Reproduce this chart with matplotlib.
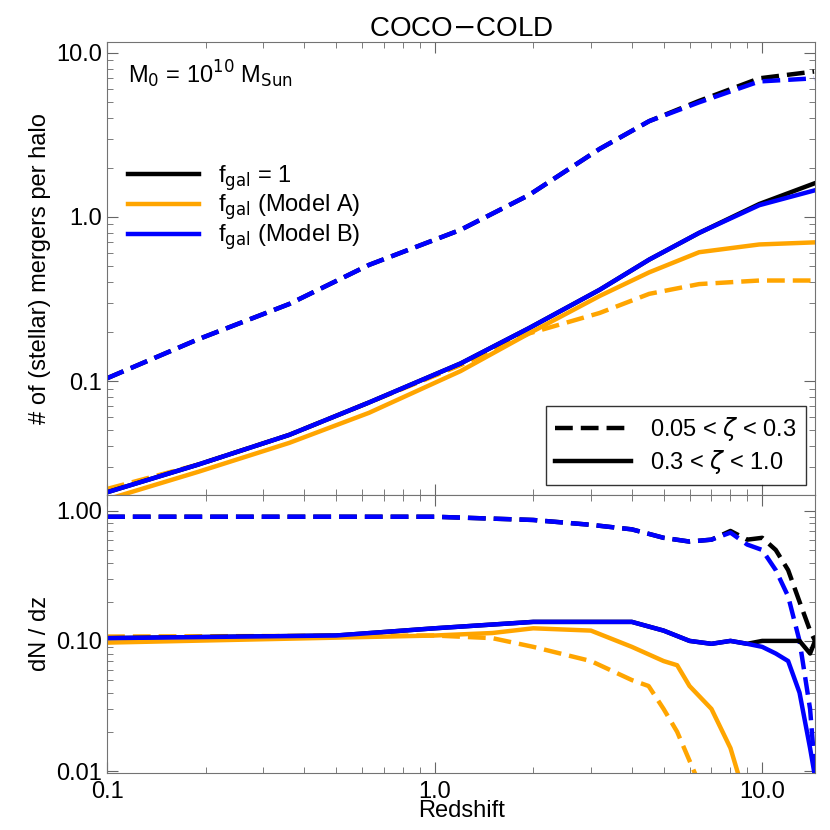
import numpy as np
import matplotlib
matplotlib.use('Agg')
import matplotlib.pyplot as plt
from matplotlib.ticker import FixedLocator, FixedFormatter, NullFormatter

matplotlib.rc('font', family='Liberation Sans', size=17)

# redshift grid for the cumulative panel
z_top = [0.1, 0.19, 0.36, 0.63, 1.2, 1.94, 3.19, 4.52, 6.42, 9.8, 14.4]
# minor mergers (dashed), cumulative
top_black_d = [0.104, 0.18, 0.295, 0.51, 0.835, 1.36, 2.6, 3.84, 5.1, 7.0, 7.7]
top_blue_d = [0.104, 0.18, 0.295, 0.51, 0.835, 1.36, 2.6, 3.84, 5.0, 6.7, 7.0]
top_orange_d = [0.022, 0.031, 0.047, 0.074, 0.125, 0.195, 0.26, 0.34, 0.39, 0.41, 0.41]
# major mergers (solid), cumulative
top_black_s = [0.021, 0.031, 0.047, 0.074, 0.128, 0.21, 0.36, 0.55, 0.80, 1.2, 1.6]
top_blue_s = [0.021, 0.031, 0.047, 0.074, 0.128, 0.21, 0.36, 0.55, 0.80, 1.18, 1.45]
top_orange_s = [0.019, 0.028, 0.042, 0.064, 0.115, 0.195, 0.33, 0.46, 0.61, 0.68, 0.70]

# differential panel
z_bd = [0.1, 0.5, 1.0, 2.0, 3.0, 4.0, 5.0, 6.0, 7.0, 8.0, 9.0, 10.0, 11.0, 12.0, 13.0, 14.0, 14.5]
bot_blue_d = [0.9, 0.9, 0.9, 0.85, 0.78, 0.72, 0.62, 0.58, 0.6, 0.68, 0.55, 0.5, 0.35, 0.22, 0.1, 0.03, 0.01]
bot_black_d = [0.9, 0.9, 0.9, 0.85, 0.78, 0.72, 0.62, 0.58, 0.6, 0.7, 0.6, 0.62, 0.5, 0.35, 0.2, 0.12, 0.1]
bot_blue_s = [0.105, 0.11, 0.125, 0.14, 0.14, 0.14, 0.12, 0.1, 0.095, 0.1, 0.095, 0.09, 0.08, 0.07, 0.04, 0.015, 0.009]
bot_black_s = [0.105, 0.11, 0.125, 0.14, 0.14, 0.14, 0.12, 0.1, 0.095, 0.1, 0.095, 0.1, 0.1, 0.1, 0.1, 0.08, 0.1]
z_os = [0.1, 1.0, 1.5, 2.0, 3.0, 4.0, 5.0, 5.5, 6.0, 7.0, 8.0, 8.5]
bot_orange_s = [0.097, 0.11, 0.115, 0.125, 0.12, 0.09, 0.07, 0.065, 0.045, 0.03, 0.015, 0.009]
z_od = [0.1, 1.0, 1.5, 2.0, 3.0, 4.0, 4.5, 5.0, 5.5, 6.0, 6.3]
bot_orange_d = [0.108, 0.11, 0.105, 0.09, 0.07, 0.05, 0.045, 0.03, 0.02, 0.012, 0.009]

ORANGE = '#ffa500'
BLUE = '#0000ff'
LW = 3.2
DASH = (0, (4, 1.8))

def style(ax, yticks, ylabels):
  ax.set_xscale('log')
  ax.set_yscale('log')
  ax.set_xlim(0.1, 14.5)
  ax.tick_params(which='both', direction='in', top=True, right=True, color='0.4')
  ax.tick_params(which='major', length=8)
  ax.tick_params(which='minor', length=4)
  ax.yaxis.set_major_locator(FixedLocator(yticks))
  ax.yaxis.set_major_formatter(FixedFormatter(ylabels))
  ax.yaxis.set_minor_formatter(NullFormatter())
  for s in ax.spines.values():
    s.set_color('0.45')

fig = plt.figure(figsize=(8.3, 8.3), dpi=100)
ax1 = fig.add_axes([0.129, 0.404, 0.853, 0.545])
ax2 = fig.add_axes([0.129, 0.069, 0.853, 0.335])

ax1.plot(z_top, top_black_d, color='black', lw=LW, ls=DASH)
ax1.plot(z_top, top_blue_d, color=BLUE, lw=LW, ls=DASH)
ax1.plot(z_top, top_orange_d, color=ORANGE, lw=LW, ls=DASH)
ax1.plot(z_top, top_black_s, color='black', lw=LW)
ax1.plot(z_top, top_orange_s, color=ORANGE, lw=LW)
ax1.plot(z_top, top_blue_s, color=BLUE, lw=LW)
style(ax1, [0.1, 1.0, 10.0], ['0.1', '1.0', '10.0'])
ax1.set_ylim(0.0203, 11.6)
ax1.xaxis.set_major_formatter(NullFormatter())
ax1.xaxis.set_minor_formatter(NullFormatter())
ax1.set_ylabel('# of (stellar) mergers per halo')
ax1.set_title('COCO$-$COLD', fontsize=20, pad=4)
ax1.text(0.03, 0.91, r'M$_0$ = 10$^{10}$ M$_{\rm Sun}$', transform=ax1.transAxes)

h1 = [ax1.plot([], [], color=c, lw=LW)[0] for c in ['black', ORANGE, BLUE]]
leg1 = ax1.legend(h1, [r'f$_{\rm gal}$ = 1', r'f$_{\rm gal}$ (Model A)', r'f$_{\rm gal}$ (Model B)'],
                  loc='upper left', bbox_to_anchor=(0.0, 0.78), frameon=False,
                  handlelength=3.0, labelspacing=0.0, borderaxespad=0.5)
ax1.add_artist(leg1)
h2 = [ax1.plot([], [], color='black', lw=LW, ls=DASH)[0],
      ax1.plot([], [], color='black', lw=LW)[0]]
leg2 = ax1.legend(h2, [r'0.05 < $\zeta$ < 0.3', r'0.3 < $\zeta$ < 1.0'], loc='lower right',
                  fancybox=False, edgecolor='black', handlelength=3.2, labelspacing=0.2,
                  borderaxespad=0.4)
leg2.get_frame().set_linewidth(1.0)

ax2.plot(z_bd, bot_black_d, color='black', lw=LW, ls=DASH)
ax2.plot(z_bd, bot_blue_d, color=BLUE, lw=LW, ls=DASH)
ax2.plot(z_od, bot_orange_d, color=ORANGE, lw=LW, ls=DASH)
ax2.plot(z_bd, bot_black_s, color='black', lw=LW)
ax2.plot(z_os, bot_orange_s, color=ORANGE, lw=LW)
ax2.plot(z_bd, bot_blue_s, color=BLUE, lw=LW)
style(ax2, [0.01, 0.1, 1.0], ['0.01', '0.10', '1.00'])
ax2.set_ylim(0.0097, 1.33)
ax2.xaxis.set_major_locator(FixedLocator([0.1, 1.0, 10.0]))
ax2.xaxis.set_major_formatter(FixedFormatter(['0.1', '1.0', '10.0']))
ax2.xaxis.set_minor_formatter(NullFormatter())
ax2.tick_params(axis='x', pad=6)
ax2.set_xlabel('Redshift', labelpad=-2)
ax2.set_ylabel('dN / dz')

fig.savefig('out.png', dpi=100)
